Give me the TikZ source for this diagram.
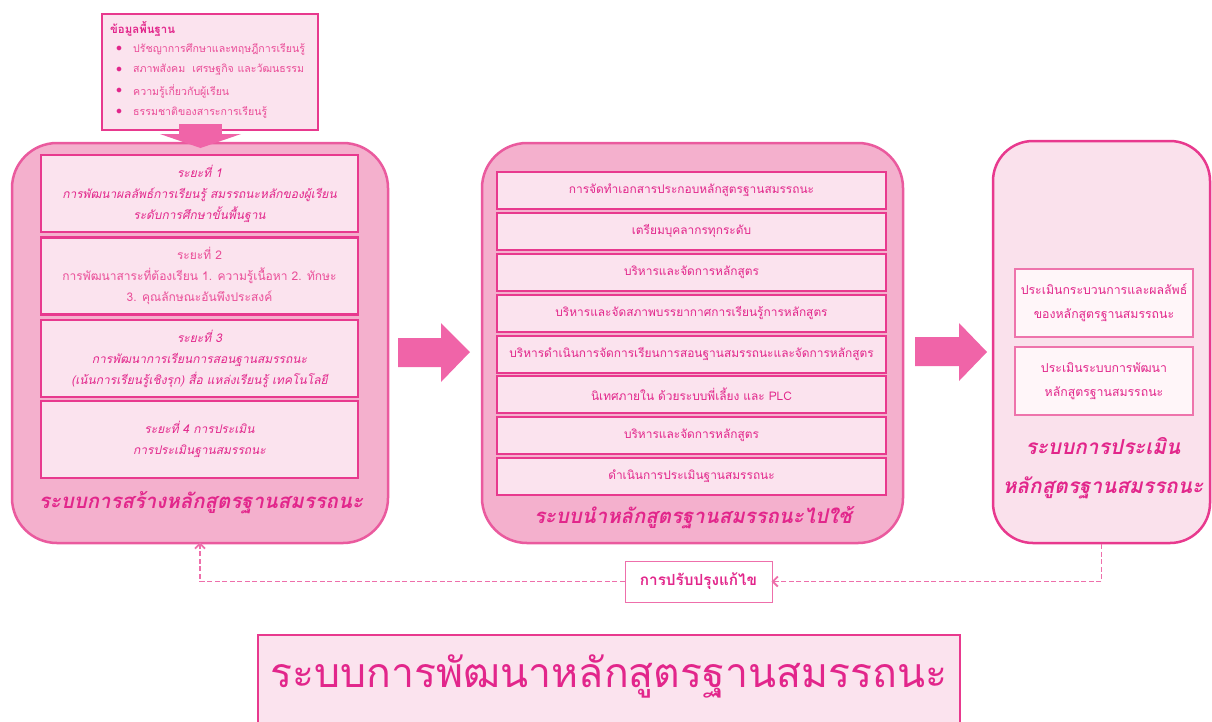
\documentclass[tikz,border=0pt]{standalone}
\usepackage{fontspec}
\newfontfamily\thai[Script=Thai]{Loma}
\usetikzlibrary{arrows.meta}
\definecolor{mg}{HTML}{E2268B}
\definecolor{mglight}{HTML}{EA4D98}
\definecolor{bord}{HTML}{E8398E}
\definecolor{panelL}{HTML}{F4B0CD}
\definecolor{panelB}{HTML}{EA5A9E}
\definecolor{inner}{HTML}{FBE3EE}
\definecolor{rpfill}{HTML}{FAE1EC}
\definecolor{rbox}{HTML}{FFF6F9}
\definecolor{rboxB}{HTML}{EE74AC}
\definecolor{arrowc}{HTML}{F064A8}
\definecolor{fbc}{HTML}{EE6FAB}
\tikzset{
  panel/.style={draw=panelB, line width=2.5pt, fill=panelL, rounded corners=45pt, inner sep=0pt},
  stagebox/.style={draw=bord, line width=2.7pt, fill=inner, minimum width=317pt, minimum height=77pt, inner sep=0pt, align=center, text=mg, font=\thai\fontsize{12}{21}\selectfont},
  itembox/.style={draw=bord, line width=2.4pt, fill=inner, minimum width=389pt, minimum height=37pt, inner sep=0pt, align=center, text=mg, font=\thai\fontsize{11.9}{14}\selectfont},
  rbx/.style={draw=rboxB, line width=2pt, fill=rbox, minimum width=178pt, minimum height=68pt, inner sep=0pt, align=center, text=mg, font=\thai\fontsize{12.3}{24}\selectfont},
  ptitle/.style={text=mg, font=\thai\bfseries\itshape\fontsize{20.4}{39}\selectfont, align=center, inner sep=0pt},
  infotxt/.style={anchor=west, text=mglight, font=\thai\fontsize{10.6}{12}\selectfont, inner sep=0pt},
  blockarrow/.style={fill=arrowc, draw=none},
  fb/.style={draw=fbc, line width=1.9pt, dash pattern=on 5pt off 2.5pt},
}
\begin{document}
\begin{tikzpicture}[x=1pt,y=-1pt]
\useasboundingbox (0,0) rectangle (1212,721);

% ---- info box ----
\node[draw=bord, line width=2pt, fill=inner, minimum width=216pt, minimum height=116pt, inner sep=0pt] (info) at (210,72) {};
\node[anchor=west, text=mg, font=\thai\bfseries\fontsize{11.4}{12}\selectfont, inner sep=0pt] (infoh) at (110,29) {ข้อมูลพื้นฐาน};
\foreach \yy/\tt [count=\i] in {49/ปรัชญาการศึกษาและทฤษฎีการเรียนรู้, 70/สภาพสังคม\ \ เศรษฐกิจ และวัฒนธรรม, 91/ความรู้เกี่ยวกับผู้เรียน, 112/ธรรมชาติของสาระการเรียนรู้}{
  \node[text=mg, inner sep=0pt, font=\large] (bul\i) at (119,\yy) {$\bullet$};
  \node[infotxt] (inf\i) at (133,\yy) {\tt};
}

% ---- left panel ----
\node[panel, minimum width=376pt, minimum height=400pt] (lp) at (200,343) {};
\fill[arrowc] (179,124) rectangle (222,134);
\fill[arrowc] (160,134) -- (241,134) -- (200.5,148) -- cycle;
\node[stagebox] (s1) at (199.5,193.5) {{\itshape ระยะที่ 1}\\{\itshape การพัฒนาผลลัพธ์การเรียนรู้ สมรรถนะหลักของผู้เรียน}\\{\itshape ระดับการศึกษาขั้นพื้นฐาน}};
\node[stagebox, text=mglight] (s2) at (199.5,276) {ระยะที่ 2\\การพัฒนาสาระที่ต้องเรียน 1. ความรู้เนื้อหา 2. ทักษะ\\3. คุณลักษณะอันพึงประสงค์};
\node[stagebox] (s3) at (199.5,358.5) {{\itshape ระยะที่ 3}\\{\itshape การพัฒนาการเรียนการสอนฐานสมรรถนะ}\\{\itshape (เน้นการเรียนรู้เชิงรุก) สื่อ แหล่งเรียนรู้ เทคโนโลยี}};
\node[stagebox] (s4) at (199.5,439.5) {{\itshape ระยะที่ 4 การประเมิน}\\{\itshape การประเมินฐานสมรรถนะ}};
\node[ptitle] (lpt) at (201,503) {ระบบการสร้างหลักสูตรฐานสมรรถนะ};

% ---- middle panel ----
\node[panel, minimum width=421pt, minimum height=400pt] (mp) at (692.5,343) {};
\foreach \yy/\tt [count=\i] in {190.5/การจัดทำเอกสารประกอบหลักสูตรฐานสมรรถนะ, 231.5/เตรียมบุคลากรทุกระดับ, 272.5/บริหารและจัดการหลักสูตร, 313.5/บริหารและจัดสภาพบรรยากาศการเรียนรู้การหลักสูตร, 354.5/บริหารดำเนินการจัดการเรียนการสอนฐานสมรรถนะและจัดการหลักสูตร, 394.5/นิเทศภายใน ด้วยระบบพี่เลี้ยง และ PLC, 435.5/บริหารและจัดการหลักสูตร, 476.5/ดำเนินการประเมินฐานสมรรถนะ}{
  \node[itembox] (m\i) at (691.5,\yy) {\tt};
}
\node[ptitle] (mpt) at (693,518) {ระบบนำหลักสูตรฐานสมรรถนะไปใช้};

% ---- right panel ----
\node[panel, fill=rpfill, draw=bord, rounded corners=40pt, minimum width=217pt, minimum height=402pt] (rp) at (1101.5,342) {};
\node[rbx] (r1) at (1104,302.5) {ประเมินกระบวนการและผลลัพธ์\\ของหลักสูตรฐานสมรรถนะ};
\node[rbx] (r2) at (1104,381) {ประเมินระบบการพัฒนา\\หลักสูตรฐานสมรรถนะ};
\node[ptitle, font=\thai\bfseries\itshape\fontsize{20.8}{39}\selectfont] (rpt) at (1103,468) {ระบบการประเมิน\\หลักสูตรฐานสมรรถนะ};

% ---- block arrows ----
\fill[blockarrow] (398,338) -- (441,338) -- (441,323) -- (470,352) -- (441,382) -- (441,367) -- (398,367) -- cycle;
\fill[blockarrow] (915,337) -- (959,337) -- (959,323) -- (987,352) -- (959,381) -- (959,366) -- (915,366) -- cycle;

% ---- feedback ----
\node[draw=fbc, line width=1pt, fill=white, minimum width=147pt, minimum height=41pt, inner sep=0pt, text=mg, font=\thai\bfseries\fontsize{15.3}{17}\selectfont] (fix) at (698.5,581.5) {การปรับปรุงแก้ไข};
\draw[fb, -{Straight Barb[length=5pt,width=10pt]}] (rp.south) |- ([xshift=-1pt]fix.east);
\draw[fb, -{Straight Barb[length=5pt,width=10pt]}] (fix.west) -| ([yshift=2pt]lp.south);

% ---- bottom title ----
\node[draw=bord, line width=2pt, fill=inner, minimum width=702pt, minimum height=90pt, inner sep=0pt] (bt) at (609,680) {};
\node[text=mg, font=\thai\fontsize{41}{48}\selectfont, inner sep=0pt] (btt) at (609,676) {ระบบการพัฒนาหลักสูตรฐานสมรรถนะ};
\end{tikzpicture}
\end{document}
